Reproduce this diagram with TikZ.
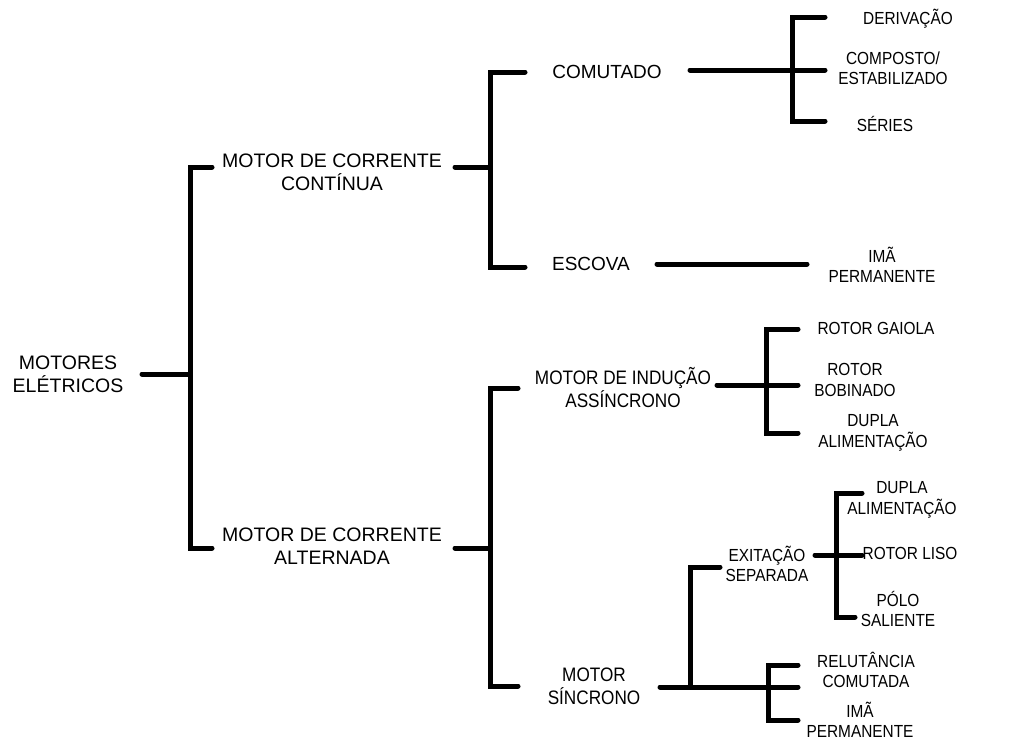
\documentclass[tikz,border=0pt]{standalone}
\usepackage{fontspec}
\setmainfont{Liberation Sans}
\newfontfamily\condf[FakeStretch=0.88]{Liberation Sans}
\begin{document}
\begin{tikzpicture}[x=1pt,y=-1pt,
  ln/.style={line width=5pt, line cap=round, line join=miter, black},
  lbl/.style={inner sep=0pt, align=center, text=black},
  lvA/.style={lbl, font=\fontsize{19.5}{23}\selectfont},
  lvB/.style={lbl, font=\fontsize{19}{23}\selectfont},
  lvC/.style={lbl, font=\condf\fontsize{19.5}{23}\selectfont},
  leaf/.style={lbl, font=\condf\fontsize{17.5}{20.5}\selectfont}]
\useasboundingbox (0,0) rectangle (1023,742);

% text nodes
\node[lvA] (root) at (68,374) {MOTORES\\ELÉTRICOS};
\node[lvA] (dc) at (332,172) {MOTOR DE CORRENTE\\CONTÍNUA};
\node[lvA] (ac) at (332,546) {MOTOR DE CORRENTE\\ALTERNADA};
\node[lvB] (comut) at (607,72) {COMUTADO};
\node[lvB] (escova) at (591,264) {ESCOVA};
\node[lvC] (induc) at (623,388) {MOTOR DE INDUÇÃO\\ASSÍNCRONO};
\node[lvC] (sinc) at (594,686) {MOTOR\\SÍNCRONO};
\node[leaf] (exit) at (767,564) {EXITAÇÃO\\SEPARADA};
\node[leaf] (deriv) at (908,19) {DERIVAÇÃO};
\node[leaf] (compo) at (893,68) {COMPOSTO/\\ESTABILIZADO};
\node[leaf] (series) at (885,124) {SÉRIES};
\node[leaf] (imaA) at (882,265) {IMÃ\\PERMANENTE};
\node[leaf] (gaiola) at (876,328) {ROTOR GAIOLA};
\node[leaf] (bobin) at (855,380) {ROTOR\\BOBINADO};
\node[leaf] (duplaA) at (873,433) {DUPLA\\ALIMENTAÇÃO};
\node[leaf] (duplaB) at (902,500) {DUPLA\\ALIMENTAÇÃO};
\node[leaf] (liso) at (910,553) {ROTOR LISO};
\node[leaf] (polo) at (898,609) {PÓLO\\SALIENTE};
\node[leaf] (relut) at (866,670) {RELUTÂNCIA\\COMUTADA};
\node[leaf] (imaB) at (860,720) {IMÃ\\PERMANENTE};

% junction / end coordinates
\coordinate (r0) at (142,374);
\coordinate (r1) at (190,374);
\coordinate (r1t) at (190,167);
\coordinate (r1b) at (190,548);
\coordinate (dcL) at (212,167);
\coordinate (acL) at (212,548);

\coordinate (dcR) at (455,167);
\coordinate (dcJ) at (490,167);
\coordinate (dcJt) at (490,72);
\coordinate (dcJb) at (490,267);
\coordinate (comL) at (525,72);
\coordinate (escL) at (525,267);

\coordinate (comR) at (690,70);
\coordinate (comJ) at (792,70);
\coordinate (comJt) at (792,17);
\coordinate (comJb) at (792,121);
\coordinate (derL) at (825,17);
\coordinate (cmpL) at (825,70);
\coordinate (serL) at (825,121);

\coordinate (escR) at (657,264);
\coordinate (imaAL) at (807,264);

\coordinate (acR) at (455,548);
\coordinate (acJ) at (490,548);
\coordinate (acJt) at (490,388);
\coordinate (acJb) at (490,686);
\coordinate (indL) at (518,388);
\coordinate (sinL) at (518,686);

\coordinate (indR) at (717,385);
\coordinate (indJ) at (766,385);
\coordinate (indJt) at (766,329);
\coordinate (indJb) at (766,433);
\coordinate (gaiL) at (798,329);
\coordinate (bobL) at (798,385);
\coordinate (dpAL) at (798,433);

\coordinate (sinR) at (660,687);
\coordinate (sinJ) at (690,687);
\coordinate (sinJt) at (690,567);
\coordinate (exiL) at (720,567);
\coordinate (sinK) at (768,687);
\coordinate (sinKt) at (768,665);
\coordinate (sinKb) at (768,720);
\coordinate (relL) at (798,665);
\coordinate (imaBL) at (798,720);
\coordinate (sinE) at (798,687);

\coordinate (exiR) at (815,555);
\coordinate (exiJ) at (836,555);
\coordinate (exiJt) at (836,493);
\coordinate (exiJb) at (836,617);
\coordinate (dpBL) at (862,493);
\coordinate (lisL) at (862,555);
\coordinate (polL) at (855,617);

% connectors
\draw[ln] (r0) -- (r1);
\draw[ln] (dcL) -- (r1t) -- (r1b) -- (acL);

\draw[ln] (dcR) -- (dcJ);
\draw[ln] (comL) -- (dcJt) -- (dcJb) -- (escL);
\draw[ln] (comR) -- (comJ) -- (cmpL);
\draw[ln] (derL) -- (comJt) -- (comJb) -- (serL);
\draw[ln] (escR) -- (imaAL);

\draw[ln] (acR) -- (acJ);
\draw[ln] (indL) -- (acJt) -- (acJb) -- (sinL);
\draw[ln] (indR) -- (indJ) -- (bobL);
\draw[ln] (gaiL) -- (indJt) -- (indJb) -- (dpAL);

\draw[ln] (sinR) -- (sinJ) -- (sinK) -- (sinE);
\draw[ln] (sinJ) -- (sinJt) -- (exiL);
\draw[ln] (relL) -- (sinKt) -- (sinKb) -- (imaBL);
\draw[ln] (exiR) -- (exiJ) -- (lisL);
\draw[ln] (dpBL) -- (exiJt) -- (exiJb) -- (polL);
\end{tikzpicture}
\end{document}
